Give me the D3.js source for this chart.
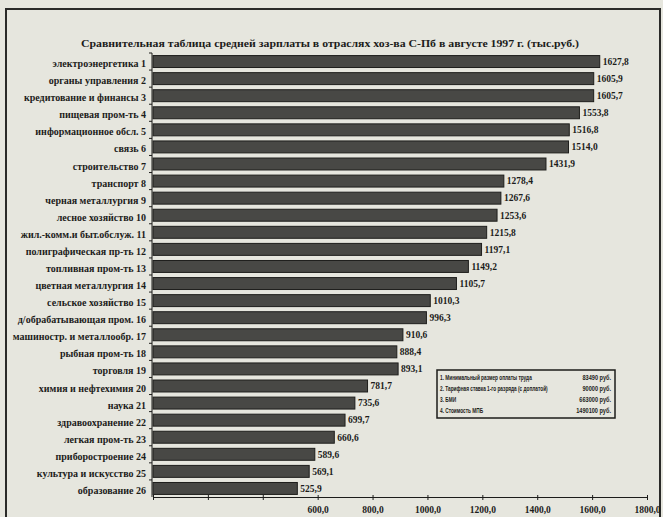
<!DOCTYPE html>
<html>
<head>
<meta charset="utf-8">
<script src="https://cdn.jsdelivr.net/npm/d3@7"></script>
<style>
    html, body { margin: 0; padding: 0; background: #e6e6de; }
    #chart-area { width: 663px; height: 517px; }
</style>
</head>
<body>
<div id="chart-area"></div>
<script>
// отрасли (подписи слева)
const categories = [
    'электроэнергетика 1', 'органы управления 2', 'кредитование и финансы 3',
    'пищевая пром-ть 4', 'информационное обсл. 5', 'связь 6', 'строительство 7',
    'транспорт 8', 'черная металлургия 9', 'лесное хозяйство 10',
    'жил.-комм.и быт.обслуж. 11', 'полиграфическая пр-ть 12', 'топливная пром-ть 13',
    'цветная металлургия 14', 'сельское хозяйство 15', 'д/обрабатывающая пром. 16',
    'машиностр. и металлообр. 17', 'рыбная пром-ть 18', 'торговля 19',
    'химия и нефтехимия 20', 'наука 21', 'здравоохранение 22', 'легкая пром-ть 23',
    'приборостроение 24', 'культура и искусство 25', 'образование 26'
];

// средняя зарплата, тыс.руб.
const salaries = [
    1627.8, 1605.9, 1605.7, 1553.8, 1516.8, 1514.0, 1431.9, 1278.4, 1267.6, 1253.6,
    1215.8, 1197.1, 1149.2, 1105.7, 1010.3, 996.3, 910.6, 888.4, 893.1, 781.7,
    735.6, 699.7, 660.6, 589.6, 569.1, 525.9
];

// деления оси X
const xTicks = [0, 200, 400, 600, 800, 1000, 1200, 1400, 1600, 1800];
const xTickLabels = [600, 800, 1000, 1200, 1400, 1600, 1800];

// врезка со справкой
const noteNames = [
    '1. Минимальный размер оплаты труда',
    '2. Тарифная ставка 1-го разряда (с доплатой)',
    '3. БМИ',
    '4. Стоимость МПБ'
];
const noteValues = ['83490 руб.', '90000 руб.', '663000 руб.', '1490100 руб.'];

const width = 663, height = 517;
const ink = '#1c1c1a';
const comma = v => d3.format('.1f')(v).replace('.', ',');

const svg = d3.select('#chart-area').append('svg')
    .attr('width', width)
    .attr('height', height)
    .style('font-family', '"Liberation Serif", "DejaVu Serif", serif');

svg.append('rect')
    .attr('width', width).attr('height', height)
    .attr('fill', '#e6e6de');

//рамка
svg.append('rect')
    .attr('x', 6).attr('y', 9)
    .attr('width', 654).attr('height', 530)
    .attr('fill', 'none')
    .attr('stroke', '#2a2a28')
    .attr('stroke-width', 2);

//заголовок
svg.append('text')
    .attr('x', 330).attr('y', 47)
    .attr('text-anchor', 'middle')
    .attr('font-size', '11px')
    .attr('font-weight', 'bold')
    .attr('fill', ink)
    .attr('textLength', 498)
    .attr('lengthAdjust', 'spacingAndGlyphs')
    .text('Сравнительная таблица средней зарплаты в отраслях хоз-ва С-Пб в августе 1997 г. (тыс.руб.)');

const xScale = d3.scaleLinear()
    .domain([0, 1800])
    .range([153, 647]);

const yScale = d3.scaleBand()
    .domain(categories)
    .range([53, 497])
    .paddingInner(0.3)
    .paddingOuter(0.15);

const data = categories.map((c, i) => ({ name: c, value: salaries[i] }));

//столбики
svg.selectAll('.bar')
    .data(data)
    .enter()
    .append('rect')
    .attr('class', 'bar')
    .attr('x', xScale(0))
    .attr('y', d => yScale(d.name))
    .attr('width', d => xScale(d.value) - xScale(0))
    .attr('height', yScale.bandwidth())
    .attr('fill', '#484845')
    .attr('stroke', '#1e1e1c')
    .attr('stroke-width', 1);

//значения справа от столбиков
svg.selectAll('.val')
    .data(data)
    .enter()
    .append('text')
    .attr('class', 'val')
    .attr('x', d => xScale(d.value) + 3)
    .attr('y', d => yScale(d.name) + yScale.bandwidth() / 2)
    .attr('dy', '0.35em')
    .attr('font-size', '9.5px')
    .attr('font-weight', 'bold')
    .attr('fill', ink)
    .text(d => comma(d.value));

//подписи отраслей
svg.selectAll('.cat')
    .data(data)
    .enter()
    .append('text')
    .attr('class', 'cat')
    .attr('x', 146)
    .attr('y', d => yScale(d.name) + yScale.bandwidth() / 2 + 2)
    .attr('dy', '0.35em')
    .attr('text-anchor', 'end')
    .attr('font-size', '10px')
    .attr('font-weight', 'bold')
    .attr('fill', ink)
    .text(d => d.name);

//ось Y
const gap = yScale.step() * yScale.paddingInner() / 2;
svg.append('line')
    .attr('x1', 152).attr('x2', 152)
    .attr('y1', yScale.range()[0]).attr('y2', yScale.range()[1])
    .attr('stroke', ink);
svg.selectAll('.ytick')
    .data(categories)
    .enter()
    .append('line')
    .attr('x1', 149).attr('x2', 152)
    .attr('y1', d => yScale(d) - gap)
    .attr('y2', d => yScale(d) - gap)
    .attr('stroke', ink);

//ось X
const axisX = svg.append('g')
    .attr('transform', 'translate(0, 497)')
    .call(d3.axisBottom(xScale)
        .tickValues(xTicks)
        .tickSize(3)
        .tickSizeOuter(0)
        .tickFormat(d => xTickLabels.includes(d) ? comma(d) : ''));
axisX.select('.domain').attr('stroke', ink);
axisX.selectAll('.tick line')
    .attr('y1', -2)
    .attr('stroke', ink);
axisX.selectAll('.tick text')
    .attr('y', 9)
    .attr('font-size', '9.5px')
    .attr('font-weight', 'bold')
    .attr('font-family', '"Liberation Serif", serif')
    .attr('fill', ink);

//врезка
const note = svg.append('g').attr('transform', 'translate(437, 370)');
note.append('rect')
    .attr('width', 178).attr('height', 48)
    .attr('fill', 'none')
    .attr('stroke', ink)
    .attr('stroke-width', 1.5);
//названия сжаты по горизонтали, как в оригинале
note.selectAll('.nn')
    .data(noteNames)
    .enter()
    .append('text')
    .attr('transform', (d, i) => `translate(3, ${10 + i * 11}) scale(0.68, 1)`)
    .attr('font-size', '7px')
    .attr('font-weight', 'bold')
    .attr('fill', ink)
    .attr('font-family', '"Liberation Sans", sans-serif')
    .text(d => d);
note.selectAll('.nv')
    .data(noteValues)
    .enter()
    .append('text')
    .attr('transform', (d, i) => `translate(174, ${10 + i * 11}) scale(0.8, 1)`)
    .attr('text-anchor', 'end')
    .attr('font-size', '7px')
    .attr('font-weight', 'bold')
    .attr('fill', ink)
    .attr('font-family', '"Liberation Sans", sans-serif')
    .text(d => d);
</script>
</body>
</html>
